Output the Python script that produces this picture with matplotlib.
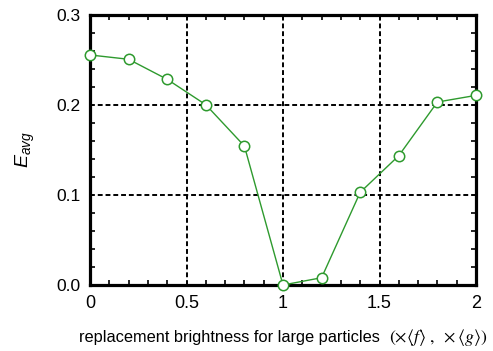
import matplotlib
matplotlib.use('Agg')
import matplotlib.pyplot as plt
from matplotlib.ticker import MultipleLocator

# values
brightness = [0.0, 0.2, 0.4, 0.6, 0.8, 1.0, 1.2, 1.4, 1.6, 1.8, 2.0]
e_avg = [0.2556, 0.2508, 0.2285, 0.2003, 0.1544, 0.0, 0.0081, 0.1030, 0.1437, 0.2033, 0.2107]
x_ticks = [0, 0.5, 1, 1.5, 2]
x_tick_labels = ['0', '0.5', '1', '1.5', '2']
y_ticks = [0.0, 0.1, 0.2, 0.3]
y_tick_labels = ['0.0', '0.1', '0.2', '0.3']

plt.rcParams['font.family'] = ['Liberation Sans', 'DejaVu Sans']
plt.rcParams['mathtext.fontset'] = 'stix'
# sans italic math for the y label
plt.rcParams['mathtext.it'] = 'Liberation Sans:italic'
plt.rcParams['mathtext.rm'] = 'Liberation Sans'
plt.rcParams['mathtext.sf'] = 'Liberation Sans'

W, H = 493, 351
fig = plt.figure(figsize=(W / 100, H / 100), dpi=100)
ax = fig.add_axes([90 / W, 1 - 285 / H, 386 / W, 270 / H])

green = '#2e9a2e'
ax.plot(brightness, e_avg, color=green, linewidth=1.0, marker='o', markersize=7.5,
        markerfacecolor='white', markeredgecolor=green, markeredgewidth=1.1,
        clip_on=False, zorder=5)

ax.set_xlim(0, 2)
ax.set_ylim(0, 0.3)
ax.set_xticks(x_ticks)
ax.set_xticklabels(x_tick_labels, fontsize=13)
ax.set_yticks(y_ticks)
ax.set_yticklabels(y_tick_labels, fontsize=12.5)
ax.xaxis.set_minor_locator(MultipleLocator(0.1))
ax.yaxis.set_minor_locator(MultipleLocator(0.02))

ax.tick_params(which='both', direction='in', top=True, right=True, width=1.2)
ax.tick_params(which='major', length=0, pad=7)
ax.tick_params(which='minor', length=3.5)

for s in ax.spines.values():
    s.set_linewidth(2.3)

for xv in [0.5, 1.0, 1.5]:
    ax.axvline(xv, color='black', linestyle=(0, (2.5, 1.5)), linewidth=1.4, zorder=1)
for yv in [0.1, 0.2]:
    ax.axhline(yv, color='black', linestyle=(0, (2.5, 1.5)), linewidth=1.4, zorder=1)

ax.set_ylabel(r'$E_{avg}$', fontsize=14, labelpad=14, math_fontfamily='custom')

# x label: sans text followed by a larger serif math part
base_y = 1 - 342 / H
fig.text(79 / W, base_y, 'replacement brightness for large particles',
         fontsize=11.8, ha='left', va='baseline')
fig.text(389 / W, base_y, r'$(\times\langle f\rangle\ ,\ \times\langle g\rangle)$',
         fontsize=12.8, ha='left', va='baseline')

fig.savefig('out.png', dpi=100)
